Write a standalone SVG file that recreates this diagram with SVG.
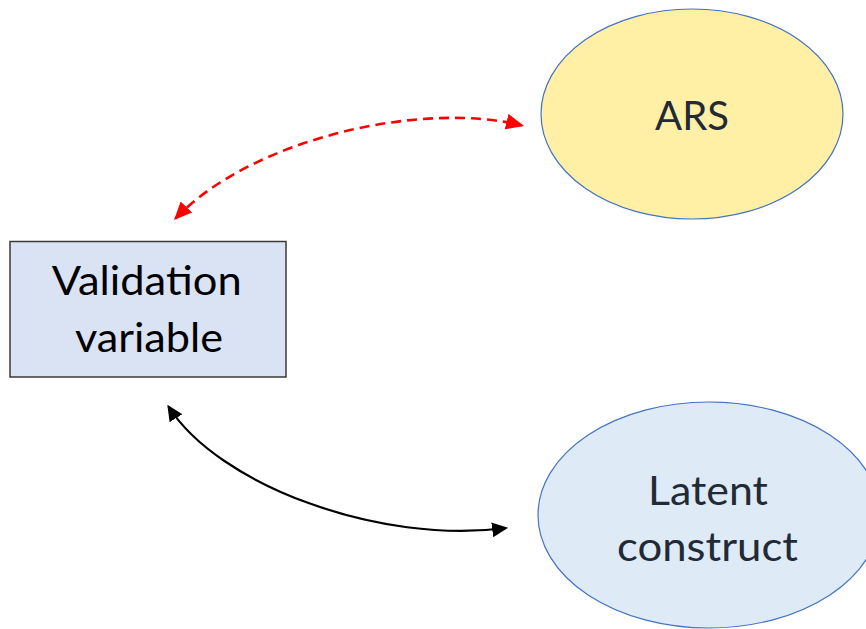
<svg xmlns="http://www.w3.org/2000/svg" width="866" height="629" viewBox="0 0 866 629">
  <style>
    .lbl { font-family: Lato, "Liberation Sans", Arial, sans-serif; font-size: 41px; text-anchor: middle; }
    .dark { fill: #222A35; }
    .blk { fill: #000000; }
    .ell { stroke: #4472C4; stroke-width: 1.2; }
    .red { fill: none; stroke: #FF0000; stroke-width: 2.6; stroke-dasharray: 10 6; }
    .black { fill: none; stroke: #000000; stroke-width: 2.2; }
  </style>
  <defs>
    <marker id="redHead" markerUnits="userSpaceOnUse" markerWidth="18" markerHeight="16" viewBox="0 0 17 15" refX="15" refY="7.5" orient="auto-start-reverse">
      <path d="M0,0 L17,7.5 L0,15 z" fill="#FF0000"/>
    </marker>
    <marker id="blackHead" markerUnits="userSpaceOnUse" markerWidth="16" markerHeight="15" viewBox="0 0 15 14" refX="13" refY="7" orient="auto-start-reverse">
      <path d="M0,0 L15,7 L0,14 z" fill="#000000"/>
    </marker>
  </defs>

  <rect width="866" height="629" fill="#FFFFFF"/>

  <g id="connectors">
    <path id="ars-validation" class="red" d="M175.5,218.5 C250,140 420,100 522,125.5" marker-start="url(#redHead)" marker-end="url(#redHead)"/>
    <path id="validation-latent" class="black" d="M168.5,406.5 C218,485 380,545 506,528" marker-start="url(#blackHead)" marker-end="url(#blackHead)"/>
  </g>

  <g id="node-validation">
    <rect x="10" y="241.5" width="276" height="135.5" fill="#DAE3F3" stroke="#3A3A3A" stroke-width="1.5"/>
    <text class="lbl blk" x="146.7" y="295" textLength="190" lengthAdjust="spacingAndGlyphs">Validation</text>
    <text class="lbl blk" x="149" y="352" textLength="148" lengthAdjust="spacingAndGlyphs">variable</text>
  </g>

  <g id="node-ars">
    <ellipse class="ell" cx="692" cy="114" rx="151" ry="105" fill="#FFF0A6"/>
    <text class="lbl dark" x="692" y="130" textLength="74" lengthAdjust="spacingAndGlyphs">ARS</text>
  </g>

  <g id="node-latent">
    <ellipse class="ell" cx="709" cy="515" rx="171" ry="113" fill="#DEEBF7"/>
    <text class="lbl dark" x="708" y="505" textLength="120" lengthAdjust="spacingAndGlyphs">Latent</text>
    <text class="lbl dark" x="707.5" y="561" textLength="181" lengthAdjust="spacingAndGlyphs">construct</text>
  </g>
</svg>
